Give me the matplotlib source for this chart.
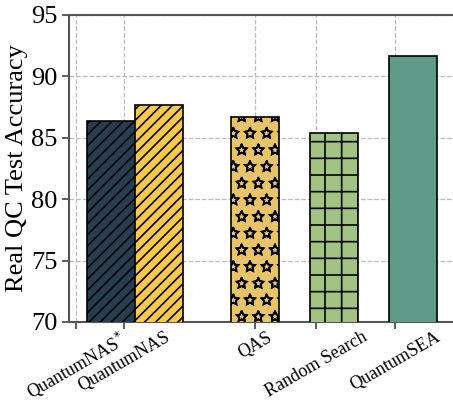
import matplotlib
matplotlib.use("Agg")
import matplotlib.pyplot as plt
import matplotlib.hatch

plt.rcParams['font.family'] = 'Liberation Serif'
plt.rcParams['hatch.linewidth'] = 1.2
plt.rcParams['hatch.color'] = 'black'
# estrelas vazadas no padrão '*'
matplotlib.hatch.Stars.filled = False

metodos = ['QuantumNAS$^{*}$', 'QuantumNAS', 'QAS', 'Random Search', 'QuantumSEA']
acuracia = [86.35, 87.7, 86.7, 85.35, 91.65]
cores = ['#263f50', '#fcc94b', '#e8c468', '#a2c383', '#5f9b88']
hachuras = ['///', '///', '*', '+', '']

# posições das barras e dos ticks (ticks deslocados em relação às barras)
pos_barras = [0.5, 1.5, 3.5, 5.15, 6.8]
pos_ticks = [-0.23, 0.77, 3.5, 4.77, 6.42]

fig = plt.figure(figsize=(4.53, 4.05), dpi=100)
ax = fig.add_axes([69 / 453, 0.205, (475 - 69) / 453, 0.758])

for x, v, c, h in zip(pos_barras, acuracia, cores, hachuras):
    ax.bar(x, v, width=1.0, color=c, edgecolor='black', linewidth=1.2, hatch=h, zorder=3)

ax.set_ylim(70, 95)
ax.set_xlim(-0.375, (475 - 87) / 48)
ax.set_yticks([70, 75, 80, 85, 90, 95])
ax.set_xticks(pos_ticks)
ax.set_xticklabels(metodos, rotation=30, fontsize=13)
ax.tick_params(axis='y', labelsize=19, length=5, width=1.2, color='#444444')
ax.tick_params(axis='x', length=5, width=1.2, color='#444444', pad=0)
ax.set_ylabel('Real QC Test Accuracy', fontsize=19, labelpad=2)
ax.grid(True, linestyle='--', color='#bbbbbb', linewidth=0.9, zorder=0)
ax.set_axisbelow(True)
for s in ax.spines.values():
    s.set_color('#555555')
    s.set_linewidth(1.5)

plt.savefig('out.png', dpi=100)
